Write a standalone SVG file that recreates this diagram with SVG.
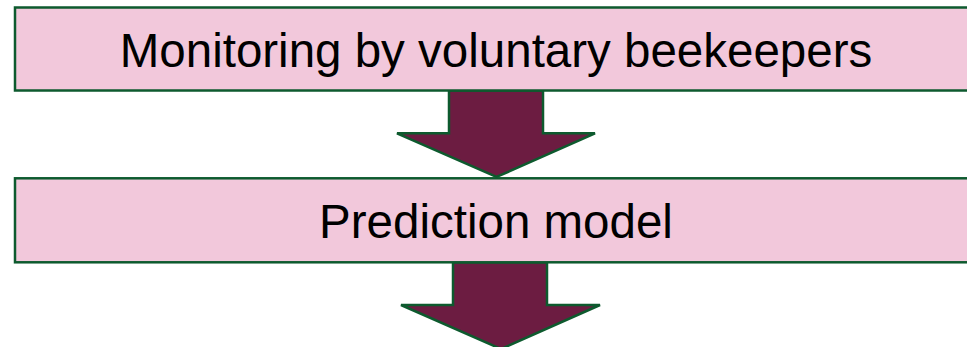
<svg xmlns="http://www.w3.org/2000/svg" width="967" height="347" viewBox="0 0 967 347">
<style>
.box{fill:#F2C8DB;stroke:#0D5A2E;stroke-width:2.5}
.arrow{fill:#6C1C41;stroke:#0D5A2E;stroke-width:2.5;stroke-linejoin:miter}
.lbl{font-family:"Liberation Sans",Arial,sans-serif;font-size:47.5px;fill:#000;text-anchor:middle}
</style>
<rect width="967" height="347" fill="#FFFFFF"/>
<g id="connectors">
<polygon class="arrow" points="449,90.5 543,90.5 543,133.3 595,133.3 496.5,177 397,133.3 449,133.3"/>
<polygon class="arrow" points="453,262.3 547,262.3 547,305 600,305 501,349 401,305 453,305"/>
</g>
<g id="node-monitoring">
<rect class="box" x="15" y="7.5" width="962" height="83"/>
<text class="lbl" x="496" y="66.7">Monitoring by voluntary beekeepers</text>
</g>
<g id="node-prediction">
<rect class="box" x="15" y="178.3" width="962" height="84"/>
<text class="lbl" x="496" y="238.3">Prediction model</text>
</g>
</svg>
